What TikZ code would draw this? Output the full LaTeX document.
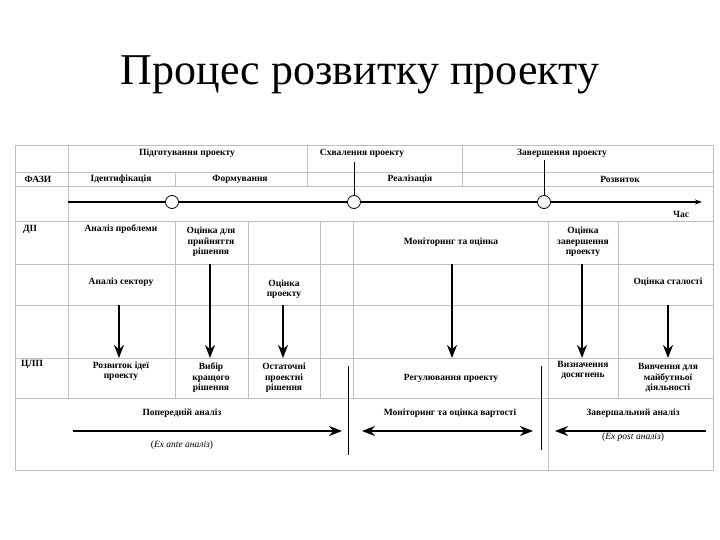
\documentclass[tikz,border=0pt]{standalone}
\usepackage{fontspec}
\setmainfont{Liberation Serif}
\usetikzlibrary{arrows.meta}
\begin{document}
\begin{tikzpicture}[x=1pt,y=-1pt,
 grid/.style={draw=black!25,line width=0.6pt},
 lbl/.style={font=\bfseries\fontsize{9.5}{10.5}\selectfont,align=center,inner sep=1pt},
 big/.style={line width=1.8pt,-{Stealth[length=13pt,width=10pt]}},
 thin/.style={line width=0.8pt}]
\useasboundingbox (0,0) rectangle (720,540);
\node (title) at (360,75) {\fontsize{44}{48}\selectfont Процес розвитку проекту};
% grid
\draw[grid] (15,145) rectangle (713,470);
\foreach \y in {172,186,221,264,305,358,398} \draw[grid] (15,\y) -- (713,\y);
\draw[grid] (68,145) -- (68,398);
\draw[grid] (307,145) -- (307,186);
\draw[grid] (462,145) -- (462,186);
\draw[grid] (175,172) -- (175,186);
\foreach \x in {175,248,320,353,548,618} \draw[grid] (\x,221) -- (\x,398);
\draw[grid] (548,398) -- (548,470);
% top rows
\node[lbl] (p1) at (187,153) {Підготування проекту};
\node[lbl] (p2) at (362,153) {Схвалення проекту};
\node[lbl] (p3) at (562,153) {Завершення проекту};
\node[lbl] (faz) at (38,179) {ФАЗИ};
\node[lbl] (f1) at (121,179) {Ідентифікація};
\node[lbl] (f2) at (240,179) {Формування};
\node[lbl] (f3) at (410,179) {Реалізація};
\node[lbl] (f4) at (620,179) {Розвиток};
% timeline
\coordinate (t0) at (68,202);
\coordinate (t1) at (702,202);
\draw[line width=1.8pt,-{Stealth[length=7pt,width=5pt]}] (t0) -- (t1);
\node[draw,circle,fill=white,minimum size=13pt,inner sep=0pt,thin] (c1) at (172,202) {};
\node[draw,circle,fill=white,minimum size=13pt,inner sep=0pt,thin] (c2) at (354,202) {};
\node[draw,circle,fill=white,minimum size=13pt,inner sep=0pt,thin] (c3) at (544,202) {};
\coordinate (u2) at (354,162); \coordinate (u3) at (544,160);
\draw[thin] (u2) -- (c2.north); \draw[thin] (u3) -- (c3.north);
\node[lbl] (time) at (681,214) {Час};
% DII row
\node[lbl] (dii) at (30,229) {ДІІ};
\node[lbl] (d1) at (121,229) {Аналіз проблеми};
\node[lbl] (d2) at (211,242) {Оцінка для\\прийняття\\рішення};
\node[lbl] (d3) at (451,242) {Моніторинг та оцінка};
\node[lbl] (d4) at (583,242) {Оцінка\\завершення\\проекту};
\node[lbl] (e1) at (121,282) {Аналіз сектору};
\node[lbl] (e2) at (284,289) {Оцінка\\проекту};
\node[lbl] (e3) at (668,282) {Оцінка сталості};
% CLP row
\node[lbl] (clp) at (32,364) {ЦЛП};
\node[lbl] (g1) at (121,371) {Розвиток ідеї\\проекту};
\node[lbl] (g2) at (211,378) {Вибір\\кращого\\рішення};
\node[lbl] (g3) at (284,378) {Остаточні\\проектні\\рішення};
\node[lbl] (g4) at (451,378) {Регулювання проекту};
\node[lbl] (g5) at (583,370) {Визначення\\досягнень};
\node[lbl] (g6) at (668,378) {Вивчення для\\майбутньої\\діяльності};
% vertical arrows
\draw[big] (119,305) -- (119,358);
\draw[big] (210,264) -- (210,358);
\draw[big] (283,305) -- (283,358);
\draw[big] (452,264) -- (452,358);
\draw[big] (582,264) -- (582,358);
\draw[big] (668,305) -- (668,358);
% bottom row
\node[lbl] (h1) at (182,413) {Попередній аналіз};
\node[lbl,font=\fontsize{9.5}{10.5}\selectfont] (h1b) at (182,445) {(\textit{Ex ante} \textit{аналіз})};
\node[lbl] (h2) at (450,413) {Моніторинг та оцінка вартості};
\node[lbl] (h3) at (633,413) {Завершальний аналіз};
\node[lbl,font=\fontsize{9.5}{10.5}\selectfont] (h3b) at (633,437) {(\textit{Ex post} \textit{аналіз})};
\coordinate (a1) at (73,431); \coordinate (a2) at (342,431);
\draw[big] (a1) -- (a2);
\coordinate (b1) at (362,431); \coordinate (b2) at (533,431);
\draw[line width=1.8pt,{Stealth[length=13pt,width=10pt]}-{Stealth[length=13pt,width=10pt]}] (b1) -- (b2);
\coordinate (k1) at (706,431); \coordinate (k2) at (555,431);
\draw[big] (k1) -- (k2);
\coordinate (v1) at (348,366); \coordinate (v2) at (348,455);
\draw[thin] (v1) -- (v2);
\coordinate (w1) at (541,366); \coordinate (w2) at (541,450);
\draw[thin] (w1) -- (w2);
\end{tikzpicture}
\end{document}
